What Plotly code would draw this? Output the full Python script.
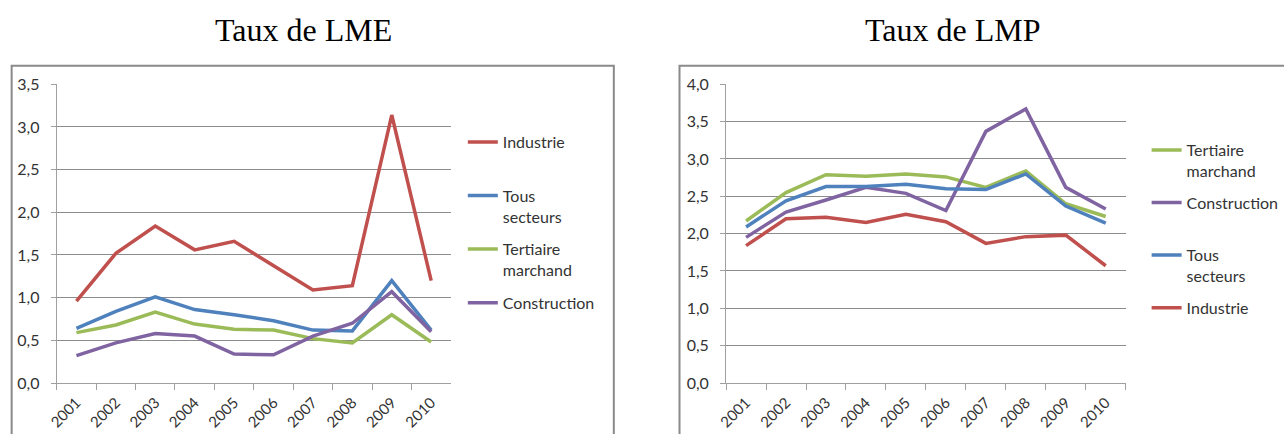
import plotly.graph_objects as go

W, H = 1284, 434

years = [str(y) for y in range(2001, 2011)]

# Taux de LME
lme_industrie = [0.96, 1.52, 1.84, 1.56, 1.66, 1.37, 1.09, 1.14, 3.14, 1.20]
lme_tous = [0.64, 0.84, 1.01, 0.86, 0.80, 0.73, 0.62, 0.61, 1.20, 0.62]
lme_tertiaire = [0.59, 0.68, 0.83, 0.69, 0.63, 0.62, 0.52, 0.47, 0.80, 0.48]
lme_construction = [0.32, 0.47, 0.58, 0.55, 0.34, 0.33, 0.55, 0.70, 1.07, 0.60]

# Taux de LMP
lmp_tertiaire = [2.17, 2.55, 2.79, 2.77, 2.80, 2.76, 2.62, 2.84, 2.40, 2.23]
lmp_construction = [1.95, 2.29, 2.45, 2.62, 2.54, 2.31, 3.37, 3.67, 2.62, 2.33]
lmp_tous = [2.09, 2.44, 2.63, 2.63, 2.66, 2.60, 2.59, 2.80, 2.37, 2.14]
lmp_industrie = [1.84, 2.20, 2.22, 2.15, 2.26, 2.16, 1.87, 1.96, 1.98, 1.57]

red, blue, green, purple = "#C0504D", "#4F81BD", "#9BBB59", "#8064A2"
grid = "#8c8c8c"
axis_col = "#a0a0a0"
txt = "#333333"
font = "Lato"


def px(x):
    return x / W


def py(y):
    return 1 - y / H


fig = go.Figure()

left = [("Industrie<br> ", lme_industrie, red),
        ("Tous<br>secteurs", lme_tous, blue),
        ("Tertiaire<br>marchand", lme_tertiaire, green),
        ("Construction", lme_construction, purple)]
for i, (name, vals, col) in enumerate(left):
    fig.add_trace(go.Scatter(x=years, y=vals, name=name, mode="lines",
                             line=dict(color=col, width=3.5),
                             xaxis="x", yaxis="y", legend="legend",
                             legendgroup="l%d" % i))

right = [("Tertiaire<br>marchand", lmp_tertiaire, green),
         ("Construction<br> ", lmp_construction, purple),
         ("Tous<br>secteurs", lmp_tous, blue),
         ("Industrie", lmp_industrie, red)]
for i, (name, vals, col) in enumerate(right):
    fig.add_trace(go.Scatter(x=years, y=vals, name=name, mode="lines",
                             line=dict(color=col, width=3.5),
                             xaxis="x2", yaxis="y2", legend="legend2",
                             legendgroup="r%d" % i))

xax = dict(type="category", range=[-0.5, 9.5], tickson="boundaries",
           ticks="outside", ticklen=6, tickcolor=axis_col, showline=True,
           linecolor=axis_col, linewidth=1, showgrid=False, tickangle=-45,
           ticklabelstandoff=4,
           tickfont=dict(family=font, size=15, color=txt), automargin=False)
yax = dict(dtick=0.5, tickformat=".1f", ticks="outside", ticklen=5,
           tickcolor=axis_col, showline=True, linecolor=axis_col, linewidth=1,
           showgrid=True, gridcolor=grid, gridwidth=1, zeroline=False,
           ticklabelstandoff=8,
           tickfont=dict(family=font, size=16, color=txt), automargin=False)

leg = dict(font=dict(family=font, size=16, color=txt), bgcolor="rgba(0,0,0,0)",
           valign="top", yanchor="top", xanchor="left")

fig.update_layout(
    width=W, height=H,
    margin=dict(l=0, r=0, t=0, b=0),
    paper_bgcolor="white", plot_bgcolor="white",
    separators=", ",
    showlegend=True,
    xaxis=dict(xax, domain=[px(57), px(453)], anchor="y"),
    yaxis=dict(yax, domain=[py(383), py(84.3)], range=[0, 3.5], anchor="x"),
    xaxis2=dict(xax, domain=[px(729.5), px(1131)], anchor="y2"),
    yaxis2=dict(yax, domain=[py(383), py(84.3)], range=[0, 4], anchor="x2"),
    legend=dict(leg, x=px(465), y=py(125), tracegroupgap=9),
    legend2=dict(leg, x=px(1152), y=py(133), tracegroupgap=8),
    shapes=[
        dict(type="rect", xref="paper", yref="paper", x0=px(11.7), x1=px(616.7),
             y0=-0.2, y1=py(65.7), line=dict(color="#8a8a8a", width=2)),
        dict(type="rect", xref="paper", yref="paper", x0=px(682.7), x1=1.1,
             y0=-0.2, y1=py(65.7), line=dict(color="#8a8a8a", width=2)),
    ],
    annotations=[
        dict(text="Taux de LME", x=px(305), y=py(30), xref="paper", yref="paper",
             showarrow=False, xanchor="center", yanchor="middle",
             font=dict(family="Liberation Serif", size=32, color="black")),
        dict(text="Taux de LMP", x=px(957), y=py(30), xref="paper", yref="paper",
             showarrow=False, xanchor="center", yanchor="middle",
             font=dict(family="Liberation Serif", size=32, color="black")),
    ],
)

# the page body has a default 8px margin; remove it so the figure sits at 0,0
fig.write_html("out.html", config={"displayModeBar": False},
               post_script="document.body.style.margin='0';")
